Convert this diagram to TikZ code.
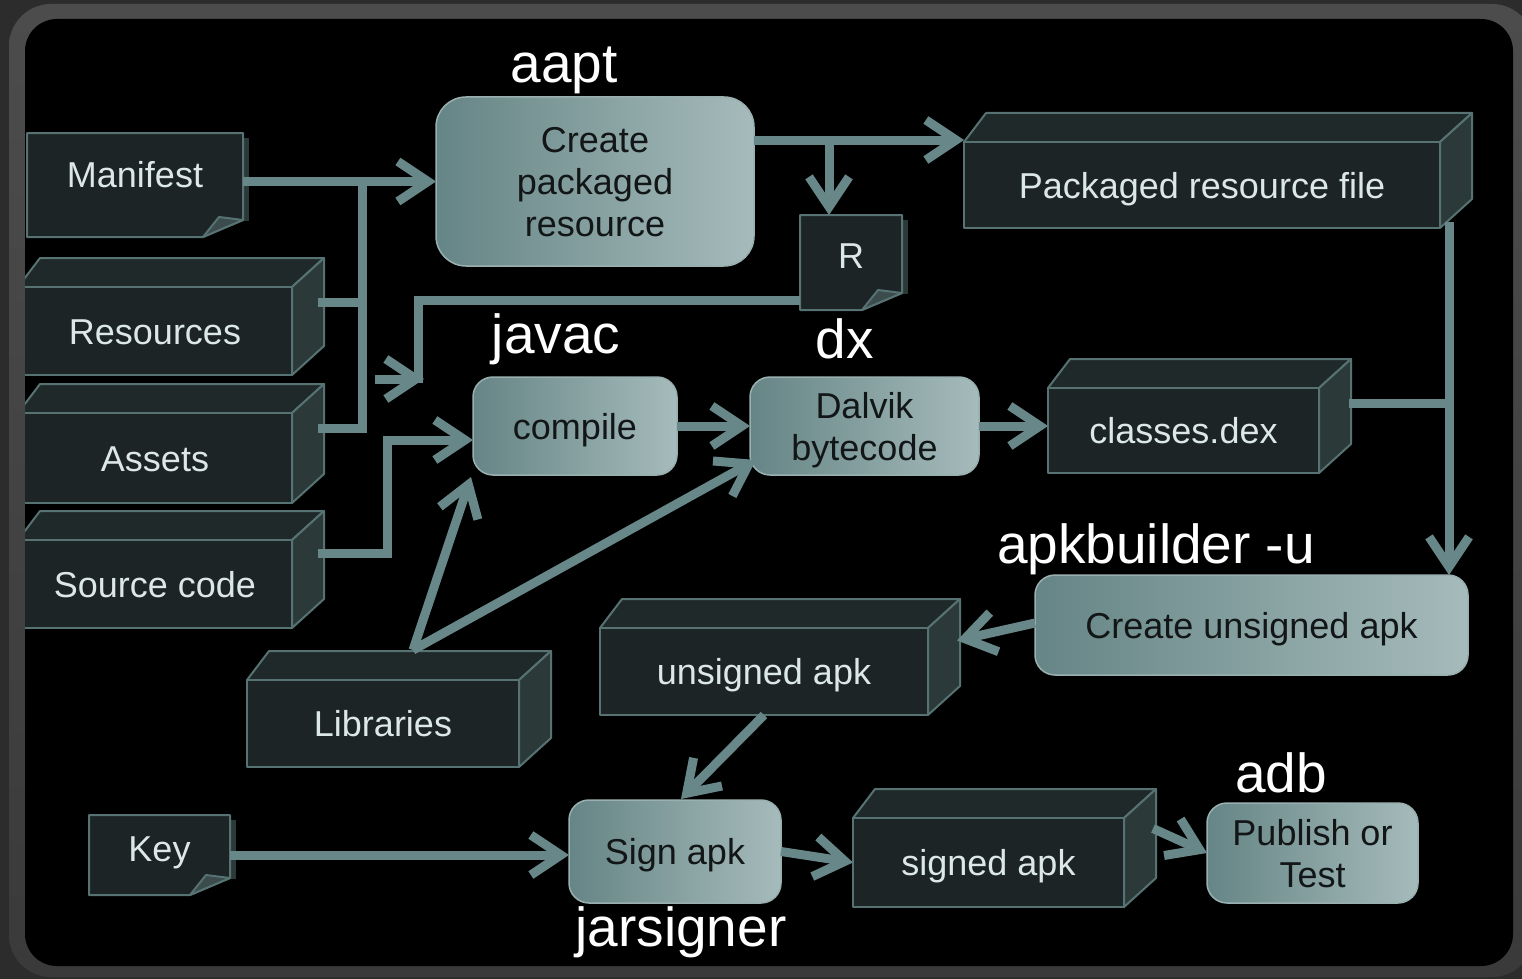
\documentclass[tikz,border=0pt]{standalone}
\usepackage{fontspec}
\setmainfont{Liberation Sans}
\usetikzlibrary{arrows.meta,calc}

\definecolor{frameouter}{HTML}{2C2C2C}
\definecolor{ringtop}{HTML}{4C4C4C}
\definecolor{ringbottom}{HTML}{3A3A3A}
\definecolor{wire}{HTML}{678788}
\definecolor{boxedge}{HTML}{567272}
\definecolor{boxfront}{HTML}{1C2425}
\definecolor{boxtop}{HTML}{202929}
\definecolor{boxside}{HTML}{2C3939}
\definecolor{foldcol}{HTML}{3C4C4C}
\definecolor{procdark}{HTML}{668586}
\definecolor{proclight}{HTML}{A6BBBB}
\definecolor{procedge}{HTML}{9AB0B0}
\definecolor{proctext}{HTML}{121616}
\definecolor{boxtext}{HTML}{DCE7E7}

\tikzset{
  x=1pt, y=-1pt,
  body/.style={font=\fontsize{36}{42}\selectfont},
  tool/.style={font=\fontsize{55}{60}\selectfont, text=white, anchor=base, inner sep=0pt},
  procbox/.style={body, align=center, rounded corners=20pt, left color=procdark,
    right color=proclight, draw=procedge, line width=1.5pt, text=proctext,
    inner sep=0pt, outer sep=0pt, text depth=0pt},
  oneline/.style={text height=26pt, text depth=0pt},
  cubeedge/.style={draw=boxedge, line width=2pt, line join=round},
  cubefront/.style={body, cubeedge, fill=boxfront, text=boxtext, inner sep=0pt,
    outer sep=0pt, oneline},
  memotext/.style={body, text=boxtext, inner sep=0pt, outer sep=0pt, text height=26pt},
  wirepath/.style={draw=wire, line width=9pt},
  flow/.style={wirepath, -{Straight Barb[length=30pt,width=40pt]}},
}

% 3-D box: name, front face x1,y1,x2,y2, text
\newcommand\cuboid[6]{%
  \filldraw[cubeedge, fill=boxtop] (#2,#3) -- ({#2+22},{#3-29}) -- ({#4+32},{#3-29}) -- (#4,#3) -- cycle;
  \filldraw[cubeedge, fill=boxside] (#4,#3) -- ({#4+32},{#3-29}) -- ({#4+32},{#5-29}) -- (#4,#5) -- cycle;
  \node[cubefront, minimum width={#4-#2}, minimum height={#5-#3}] (#1) at ({(#2+#4)/2},{(#3+#5)/2}) {#6};
}

% sheet with a folded lower right corner: name, x1,y1,x2,y2, text, text depth
\newcommand\memo[7]{%
  \fill[boxside] (#4,{#3+5}) rectangle ({#4+6},{#5-16});
  \filldraw[cubeedge, fill=boxfront] (#2,#3) -- (#4,#3) -- (#4,{#5-17}) -- ({#4-40},#5) -- (#2,#5) -- cycle;
  \filldraw[cubeedge, fill=foldcol] ({#4-40},#5) -- (#4,{#5-17}) -- ({#4-24},{#5-20}) -- cycle;
  \node[memotext, text depth=#7, minimum width={#4-#2}, minimum height={#5-#3}] (#1) at ({(#2+#4)/2},{(#3+#5)/2}) {#6};
}

\begin{document}
\begin{tikzpicture}
\useasboundingbox (0,0) rectangle (1522,979);
% frame
\fill[frameouter] (0,0) rectangle (1522,979);
\shade[top color=ringtop, bottom color=ringbottom, rounded corners=42pt] (9,4) rectangle (1534,977);
\fill[black, rounded corners=32pt] (25,19) rectangle (1513,966);

\begin{scope}
\clip[rounded corners=32pt] (25,19) rectangle (1513,966);

% inputs
\memo{manifest}{27}{133}{243}{237}{Manifest}{22pt}
\cuboid{res}{18}{287}{292}{375}{Resources}
\cuboid{ast}{18}{413}{292}{503}{Assets}
\cuboid{src}{18}{540}{292}{628}{Source code}
\cuboid{lib}{247}{680}{519}{767}{Libraries}
\memo{key}{89}{815}{230}{895}{Key}{14pt}

% intermediate files
\memo{R}{800}{215}{902}{310}{R}{15pt}
\cuboid{pkg}{964}{142}{1440}{228}{Packaged resource file}
\cuboid{dex}{1048}{388}{1319}{473}{classes.dex}
\cuboid{ua}{600}{628}{928}{715}{unsigned apk}
\cuboid{sa}{853}{818}{1124}{907}{signed apk}

% processing steps
\node[procbox, rounded corners=30pt, minimum width=318, minimum height=169] (aapt) at (595,181.5) {Create\\packaged\\resource};
\node[procbox, oneline, minimum width=204, minimum height=98] (compile) at (575,426) {compile};
\node[procbox, minimum width=229, minimum height=98] (dalvik) at (864.5,426) {Dalvik\\bytecode};
\node[procbox, oneline, minimum width=433, minimum height=100] (mk) at (1251.5,625) {Create unsigned apk};
\node[procbox, oneline, minimum width=212, minimum height=103] (sign) at (675,851.5) {Sign apk};
\node[procbox, minimum width=211, minimum height=100] (pub) at (1312.5,853) {Publish or\\Test};

% tool names
\node[tool] (t-aapt) at (564,83) {aapt};
\node[tool] (t-javac) at (556,353) {javac};
\node[tool] (t-dx) at (845,358) {dx};
\node[tool] (t-apkb) at (1156,563) {apkbuilder -u};
\node[tool] (t-jar) at (681,946) {jarsigner};
\node[tool] (t-adb) at (1281,792) {adb};

% junction points
\coordinate (busTop) at (362,181);
\coordinate (resOut) at ($(res.east)+(26,-29)$);
\coordinate (astOut) at ($(ast.east)+(26,-30)$);
\coordinate (srcOut) at ($(src.east)+(26,-31)$);
\coordinate (srcBend) at (387,440);
\coordinate (rOut) at ($(R.south west)+(0,-10)$);
\coordinate (rDrop) at (418,383);
\coordinate (stubFrom) at (375,379);
\coordinate (stubTo) at (424,379);
\coordinate (libTop) at ($(lib.north)+(30,-30)$);
\coordinate (aaptOut) at ($(aapt.north east)+(0,43)$);
\coordinate (rBranch) at (829,140);
\coordinate (pkgOut) at (1449,222);
\coordinate (dexOut) at ($(dex.north east)+(30,15)$);
\coordinate (saOut) at ($(sa.east)+(29,-34)$);

% connectors
\draw[flow] (manifest.east |- aapt.west) -- (aapt.west);
\draw[wirepath] (astOut) -| (busTop);
\draw[wirepath] (resOut) -- (resOut -| busTop);
\draw[wirepath] (rOut) -| (rDrop);
\draw[flow] (stubFrom) -- (stubTo);
\draw[flow] (srcOut) -| (srcBend) -- (srcBend -| compile.west);
\draw[flow] (libTop) -- ($(compile.south west)+(-2,2)$);
\draw[flow] (libTop) -- ($(dalvik.south west)+(6,-15)$);
\draw[flow] (compile.east) -- (dalvik.west);
\draw[flow] (dalvik.east) -- (dalvik.east -| dex.west);
\draw[flow] (aaptOut) -- (aaptOut -| pkg.north west);
\draw[flow] (rBranch) -- (rBranch |- R.north);
\draw[wirepath] (dexOut) -- (dexOut -| pkgOut);
\draw[flow] (pkgOut) -- (pkgOut |- mk.north);
\draw[flow] ($(mk.west)+(0,-2)$) -- ($(ua.east)+(29,-31)$);
\draw[flow] (ua.south) -- ($(sign.north)+(6,-1)$);
\draw[flow] (key.east) -- (key.east -| sign.west);
\draw[flow] (sign.east) -- (sa.west);
\draw[flow] (saOut) -- (pub.west);
\end{scope}
\end{tikzpicture}
\end{document}
